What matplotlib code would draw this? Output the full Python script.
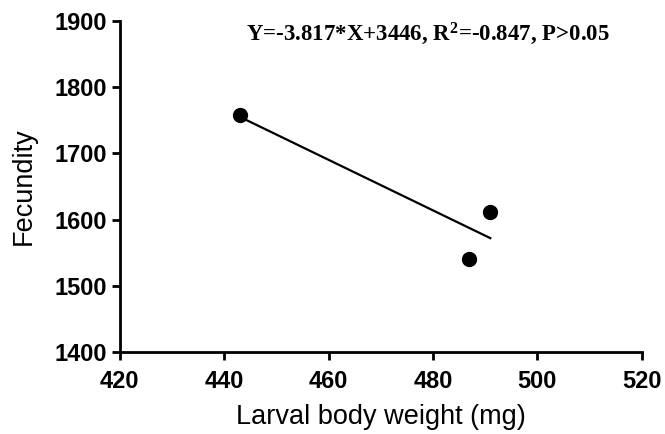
import matplotlib
matplotlib.use('Agg')
import matplotlib.pyplot as plt
import numpy as np

## data ########################################################
weight = [443, 487, 491]        # larval body weight (mg)
fecundity = [1758, 1541, 1612]
slope = -3.817
intercept = 3446
x_ticks = [420, 440, 460, 480, 500, 520]
y_ticks = [1400, 1500, 1600, 1700, 1800, 1900]
eq_text = 'Y=-3.817*X+3446, R$^{2}$=-0.847, P>0.05'

plt.rcParams['font.family'] = ['Liberation Sans', 'DejaVu Sans']
plt.rcParams['mathtext.fontset'] = 'custom'
plt.rcParams['mathtext.rm'] = 'Liberation Serif:bold'
plt.rcParams['mathtext.it'] = 'Liberation Serif:bold'
plt.rcParams['mathtext.bf'] = 'Liberation Serif:bold'

fig = plt.figure(figsize=(6.65, 4.34), dpi=100)
ax = fig.add_axes([0.180, 0.189, 0.785, 0.763])

ax.plot(weight, fecundity, 'o', color='black', markersize=10)
xs = np.array([min(weight), max(weight)])
ax.plot(xs, slope * xs + intercept, color='black', lw=1.6)

ax.set_xlim(420, 520)
ax.set_ylim(1400, 1900)
ax.set_xticks(x_ticks)
ax.set_yticks(y_ticks)
for sp in ['top', 'right']:
    ax.spines[sp].set_visible(False)
for sp in ['left', 'bottom']:
    ax.spines[sp].set_linewidth(2)
ax.tick_params(width=2, length=6, labelsize=17, direction='out', pad=3)
ax.tick_params(axis='x', pad=7)
for lab in ax.get_xticklabels() + ax.get_yticklabels():
    lab.set_fontweight('bold')

ax.set_xlabel('Larval body weight (mg)', fontsize=19.5, labelpad=8)
ax.set_ylabel('Fecundity', fontsize=19.5, labelpad=13)

ax.text(479, 1880, eq_text, ha='center', va='center', fontsize=16.5,
        family='Liberation Serif', fontweight='bold')

fig.savefig('out.png', dpi=100)
